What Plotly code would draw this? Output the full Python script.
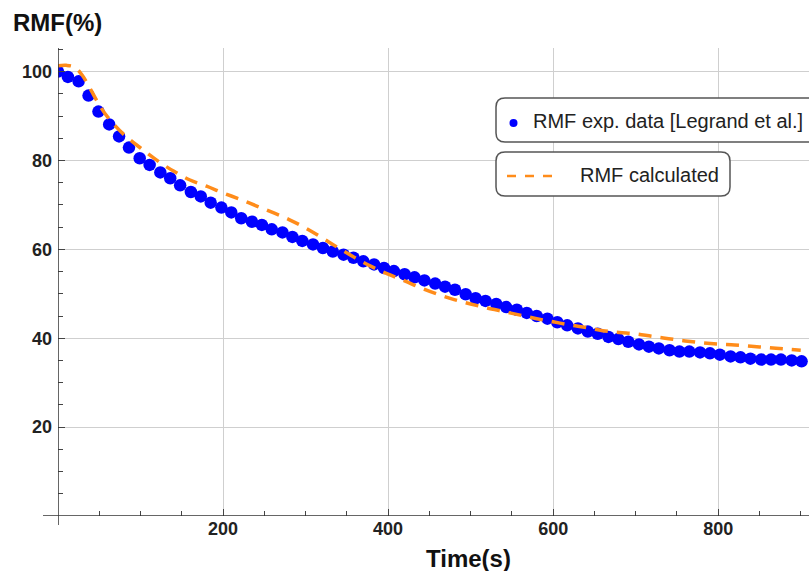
import plotly.graph_objects as go

# ---------------- data ----------------
time_exp = [0, 12, 25, 37, 49, 62, 74, 86, 99, 111, 124, 136, 148, 161, 173, 185, 198, 210,
            222, 235, 247, 259, 272, 284, 296, 309, 321, 333, 346, 358, 370, 383, 395, 407,
            420, 432, 444, 457, 469, 481, 494, 506, 518, 531, 543, 556, 568, 580, 593, 605,
            617, 630, 642, 654, 667, 679, 691, 704, 716, 728, 741, 753, 765, 778, 790, 802,
            815, 827, 839, 852, 864, 876, 889, 901]
rmf_exp = [100.0, 98.8, 97.8, 94.6, 91.0, 88.1, 85.4, 82.9, 80.5, 79.0, 77.3, 76.0, 74.4,
           72.9, 71.9, 70.5, 69.4, 68.3, 67.0, 66.2, 65.5, 64.5, 63.8, 62.8, 61.9, 61.1,
           60.3, 59.5, 58.8, 58.1, 57.3, 56.6, 55.8, 55.1, 54.4, 53.7, 53.0, 52.3, 51.6,
           50.9, 49.9, 49.0, 48.4, 47.7, 47.0, 46.4, 45.7, 45.0, 44.4, 43.6, 42.9, 42.2,
           41.5, 41.0, 40.3, 39.8, 39.2, 38.6, 38.1, 37.7, 37.3, 37.0, 37.0, 36.8, 36.6,
           36.3, 35.9, 35.7, 35.4, 35.2, 35.2, 35.2, 35.0, 34.8]

time_calc = [0, 10, 20, 30, 40, 50, 60, 80, 100, 120, 140, 160, 180, 200, 220, 240, 260, 280,
             300, 320, 340, 360, 380, 400, 420, 440, 460, 480, 500, 520, 540, 560, 580, 600,
             620, 640, 660, 680, 700, 720, 740, 760, 780, 800, 820, 840, 860, 880, 900]
rmf_calc = [101.3, 101.4, 101.0, 99.0, 95.8, 92.5, 89.8, 85.8, 82.8, 80.0, 77.6, 75.6, 74.2,
            72.7, 71.3, 69.8, 68.3, 66.7, 64.8, 62.6, 60.3, 58.1, 56.1, 54.4, 52.9, 51.3,
            49.9, 48.7, 47.7, 46.8, 46.0, 45.2, 44.4, 43.7, 43.0, 42.4, 41.7, 41.3, 41.0,
            40.4, 39.9, 39.4, 39.0, 38.7, 38.5, 38.2, 37.9, 37.6, 37.3]

x_ticks = [200, 400, 600, 800]
y_ticks = [20, 40, 60, 80, 100]
legend_labels = ["RMF exp. data [Legrand et al.]", "RMF calculated"]

BLUE = "#0000FF"
ORANGE = "#FF8C1A"
FONT = "Liberation Sans, Arial, sans-serif"

# plot area geometry (pixels)
W, H = 809, 571
L, R, T, B = 58, 0, 48, 55
PW, PH = W - L - R, H - T - B


def px(x):
    return (x - L) / PW


def py(y):
    return (H - B - y) / PH


fig = go.Figure()
fig.add_trace(go.Scatter(x=time_exp, y=rmf_exp, mode="markers",
                         marker=dict(color=BLUE, size=12.5, line=dict(width=0)),
                         name=legend_labels[0], showlegend=False))
fig.add_trace(go.Scatter(x=time_calc, y=rmf_calc, mode="lines",
                         line=dict(color=ORANGE, width=3.5, dash="13px,9px", shape="spline"),
                         name=legend_labels[1], showlegend=False))

axis_font = dict(family=FONT, size=18, color="#222222", weight="bold")
fig.update_xaxes(range=[0, 910], tickvals=x_ticks, ticks="inside", ticklen=7, tickwidth=1.3,
                 tickcolor="#444", showgrid=True, gridcolor="#cfcfcf", gridwidth=1,
                 zeroline=False, showline=False, tickfont=axis_font,
                 minor=dict(dtick=50, tick0=0, ticks="inside", ticklen=5, tickcolor="#444",
                            showgrid=False))
fig.update_yaxes(range=[0, 105.3], tickvals=y_ticks, ticks="inside", ticklen=7, tickwidth=1.3,
                 tickcolor="#444", showgrid=True, gridcolor="#cfcfcf", gridwidth=1,
                 zeroline=False, showline=False, tickfont=axis_font, ticklabelstandoff=5,
                 minor=dict(dtick=5, tick0=0, ticks="inside", ticklen=5, tickcolor="#444",
                            showgrid=False))

shapes = []
# axis lines (Mathematica style, crossing at origin)
shapes.append(dict(type="line", xref="x", yref="paper", x0=0, x1=0, y0=py(525), y1=1,
                   line=dict(color="#333", width=1.5)))
shapes.append(dict(type="line", xref="paper", yref="y", x0=px(43), x1=1.02, y0=0, y1=0,
                   line=dict(color="#333", width=1.5)))


def rounded_box(x0, y0, x1, y1, r=9):
    rx, ry = r / PW, r / PH
    a0, a1 = px(x0), px(x1)
    b0, b1 = py(y1), py(y0)  # bottom, top in paper
    path = (f"M {a0+rx},{b1} L {a1-rx},{b1} Q {a1},{b1} {a1},{b1-ry} "
            f"L {a1},{b0+ry} Q {a1},{b0} {a1-rx},{b0} L {a0+rx},{b0} "
            f"Q {a0},{b0} {a0},{b0+ry} L {a0},{b1-ry} Q {a0},{b1} {a0+rx},{b1} Z")
    return dict(type="path", xref="paper", yref="paper", path=path,
                fillcolor="white", line=dict(color="#555", width=1.5), layer="above")


shapes.append(rounded_box(496, 98, 830, 142))
shapes.append(rounded_box(496, 152, 730, 196))
# legend symbols
shapes.append(dict(type="circle", xref="paper", yref="paper",
                   x0=px(509.5), x1=px(517.5), y0=py(127), y1=py(119),
                   fillcolor=BLUE, line=dict(width=0), layer="above"))
shapes.append(dict(type="line", xref="paper", yref="paper",
                   x0=px(507), x1=px(561), y0=py(176), y1=py(176),
                   line=dict(color=ORANGE, width=2.5, dash="9px,9px"), layer="above"))

annotations = [
    dict(text=legend_labels[0], xref="paper", yref="paper", x=px(531), y=py(121),
         xanchor="left", yanchor="middle", showarrow=False,
         font=dict(family=FONT, size=20, color="#222")),
    dict(text=legend_labels[1], xref="paper", yref="paper", x=px(578), y=py(175),
         xanchor="left", yanchor="middle", showarrow=False,
         font=dict(family=FONT, size=20, color="#222")),
    dict(text="RMF(%)", xref="paper", yref="paper", x=px(11), y=py(23),
         xanchor="left", yanchor="middle", showarrow=False,
         font=dict(family=FONT, size=24, color="#111", weight="bold")),
    dict(text="Time(s)", xref="paper", yref="paper", x=px(468), y=py(558),
         xanchor="center", yanchor="middle", showarrow=False,
         font=dict(family=FONT, size=24, color="#111", weight="bold")),
]

fig.update_layout(width=W, height=H, margin=dict(l=L, r=R, t=T, b=B),
                  plot_bgcolor="white", paper_bgcolor="white",
                  shapes=shapes, annotations=annotations, showlegend=False)

fig.write_html("out.html")
